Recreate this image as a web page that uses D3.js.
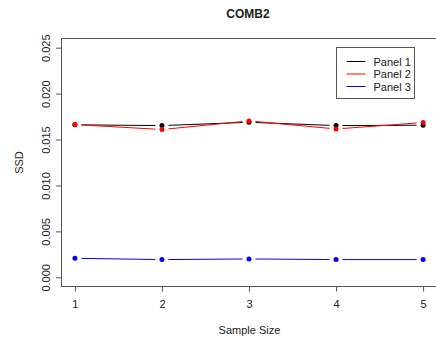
<!DOCTYPE html>
<html lang="en">
<head>
<meta charset="UTF-8">
<title>COMB2</title>
<script src="https://d3js.org/d3.v7.min.js"></script>
<style>
    body { margin: 0; background: #fff; }
    svg { display: block; font-family: 'Liberation Sans', Arial, sans-serif; }
    text { fill: #222; }
</style>
</head>
<body>
<svg id="chart" width="436" height="347"></svg>
<script>
    // sample sizes on the x axis
    const sampleSizes = [1, 2, 3, 4, 5];
    const panel1 = [0.01660, 0.01652, 0.01688, 0.01652, 0.01656];
    const panel2 = [0.01663, 0.01609, 0.01703, 0.01615, 0.01685];
    const panel3 = [0.00207, 0.00193, 0.00200, 0.00193, 0.00193];
    const seriesNames = ["Panel 1", "Panel 2", "Panel 3"];
    const seriesColors = ["#000000", "#ff0000", "#0000ff"];
    const yTicks = [0, 0.005, 0.010, 0.015, 0.020, 0.025];

    const svg = d3.select("#chart");
    const margin = { left: 61, top: 38.5, right: -1, bottom: 60.5 };
    const W = 436, H = 347;

    // R style 4% padding on both axes
    const x = d3.scaleLinear().domain([0.84, 5.16]).range([margin.left, W - margin.right]);
    const y = d3.scaleLinear().domain([-0.001, 0.026]).range([H - margin.bottom, margin.top]);

    // plot box
    svg.append("rect")
        .attr("x", margin.left + 0.5)
        .attr("y", margin.top)
        .attr("width", W - margin.right - margin.left)
        .attr("height", y.range()[0] - margin.top)
        .attr("fill", "none")
        .attr("stroke", "#555");

    // x axis
    const xAxis = svg.append("g")
        .attr("transform", `translate(0,${y.range()[0]})`)
        .call(d3.axisBottom(x).tickValues(sampleSizes).tickSize(5).tickPadding(9).tickFormat(d3.format("d")));
    xAxis.select(".domain").remove();
    xAxis.selectAll("line").attr("stroke", "#555");
    xAxis.selectAll("text").style("font-size", "11px").attr("fill", "#222");

    // y axis with rotated labels
    const yAxis = svg.append("g")
        .attr("transform", `translate(${margin.left},0)`)
        .call(d3.axisLeft(y).tickValues(yTicks).tickSize(5).tickFormat(d3.format(".3f")));
    yAxis.select(".domain").remove();
    yAxis.selectAll("line").attr("stroke", "#555");
    yAxis.selectAll("text")
        .style("font-size", "11px")
        .attr("fill", "#222")
        .attr("x", null).attr("dy", null)
        .attr("text-anchor", "middle")
        .attr("transform", "translate(-15,0) rotate(-90)")
        .attr("dominant-baseline", "central");

    // axis titles
    svg.append("text")
        .attr("x", (margin.left + W) / 2 + 1)
        .attr("y", 334)
        .attr("text-anchor", "middle")
        .style("font-size", "11px")
        .text("Sample Size");

    svg.append("text")
        .attr("transform", `translate(23,${(margin.top + y.range()[0]) / 2}) rotate(-90)`)
        .attr("text-anchor", "middle")
        .style("font-size", "11px")
        .text("SSD");

    svg.append("text")
        .attr("x", 248)
        .attr("y", 18)
        .attr("text-anchor", "middle")
        .style("font-size", "12px")
        .style("font-weight", "bold")
        .text("COMB2");

    // lines with gaps round the points (type = "b")
    const series = [panel1, panel2, panel3];
    const gap = 6.5;
    series.forEach((vals, si) => {
        const pts = vals.map((v, i) => [x(sampleSizes[i]), y(v)]);
        const g = svg.append("g");
        for (let i = 0; i < pts.length - 1; i++) {
            const [x1, y1] = pts[i], [x2, y2] = pts[i + 1];
            const len = Math.hypot(x2 - x1, y2 - y1);
            const ux = (x2 - x1) / len, uy = (y2 - y1) / len;
            g.append("line")
                .attr("x1", x1 + ux * gap).attr("y1", y1 + uy * gap)
                .attr("x2", x2 - ux * gap).attr("y2", y2 - uy * gap)
                .attr("stroke", seriesColors[si])
                .attr("stroke-width", 1);
        }
        g.selectAll("circle")
            .data(pts)
            .enter().append("circle")
            .attr("cx", d => d[0])
            .attr("cy", d => d[1])
            .attr("r", 2.5)
            .attr("fill", seriesColors[si]);
    });

    // legend
    const legend = svg.append("g").attr("transform", "translate(336.5,47.5)");
    legend.append("rect")
        .attr("width", 78).attr("height", 51)
        .attr("fill", "#fff").attr("stroke", "#555");
    seriesNames.forEach((name, i) => {
        const ly = 14 + i * 12.5;
        legend.append("line")
            .attr("x1", 10).attr("x2", 29)
            .attr("y1", ly).attr("y2", ly)
            .attr("stroke", seriesColors[i]);
        legend.append("text")
            .attr("x", 37).attr("y", ly)
            .attr("dominant-baseline", "central")
            .style("font-size", "11px")
            .text(name);
    });
</script>
</body>
</html>
